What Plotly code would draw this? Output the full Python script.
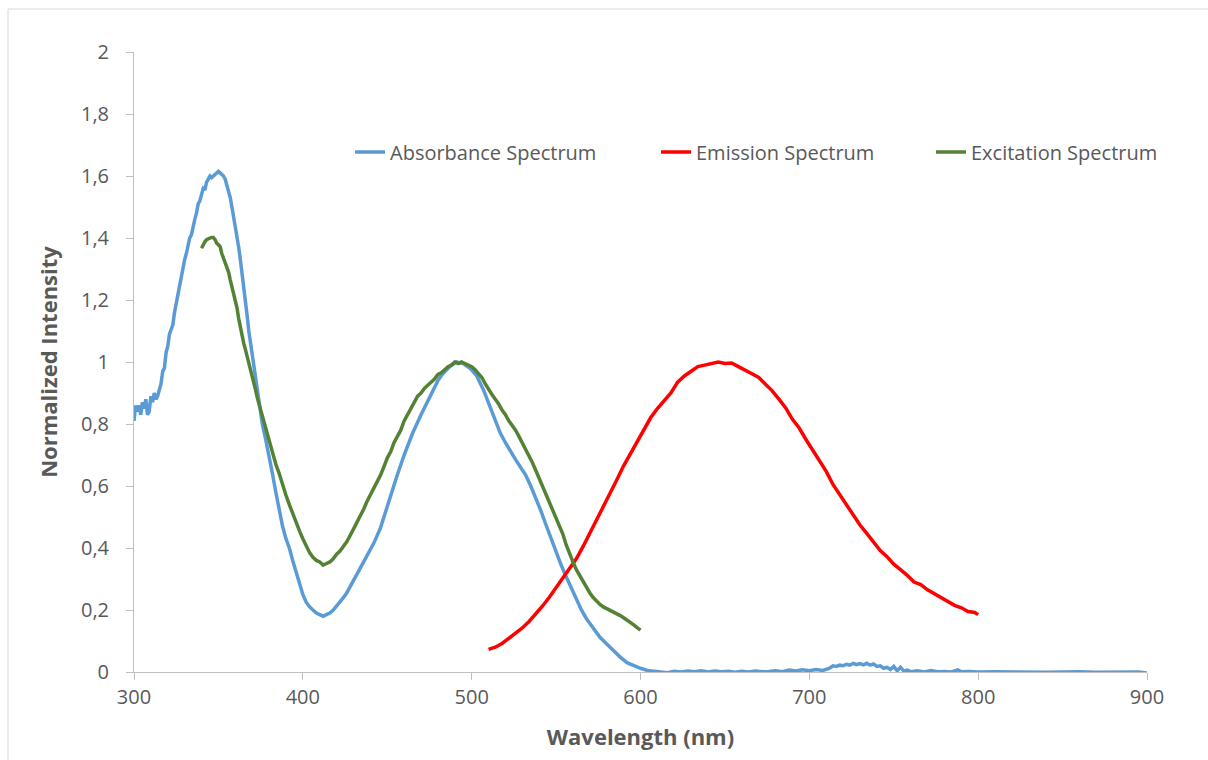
import plotly.graph_objects as go

# ---------------- data ----------------
abs_wl = [300, 301, 302, 303, 304, 305, 306, 307, 308, 309, 310, 311, 312, 313, 314, 315, 316, 317, 318, 319,
          320, 321, 322, 323, 324, 325, 326, 327, 328, 329, 330, 331, 332, 333, 334, 335, 336, 337, 338, 339,
          340, 341, 342, 343, 344, 345, 346, 347, 348, 349, 350, 351, 352, 353, 354, 355, 356, 357, 358, 359,
          360, 361, 362, 363, 364, 365, 366, 367, 368, 369, 370, 371, 372, 373, 374, 375, 376, 378, 380, 382,
          384, 386, 388, 390, 392, 394, 396, 398, 400, 402, 404, 406, 408, 410, 412, 414, 416, 418, 420, 422,
          424, 426, 430, 434, 438, 442, 446, 450, 455.6, 460, 465, 470, 475, 480, 483,
          487, 491, 495, 499, 503, 507, 511, 514, 517, 520, 523, 526, 529, 532, 535, 538, 541, 544, 547, 550,
          553, 556, 559, 562, 565, 568, 572, 576,
          580, 584, 588, 592, 596, 600, 604, 608, 612, 616, 620, 624, 628, 632, 636, 640, 644, 648, 652, 656,
          660, 664, 668, 672, 676, 680, 684, 688, 692, 696, 700, 704, 708, 712, 714, 716, 718, 720, 722, 724,
          726, 728, 730, 732, 734, 736, 738, 740, 742, 744, 746, 748, 750, 752, 754, 756, 758, 760, 764, 768,
          772, 776, 780, 784, 788, 790, 795, 800, 810, 820, 830, 840, 850, 860, 870, 880, 890, 895, 900]
abs_val = [0.81, 0.86, 0.84, 0.86, 0.83, 0.87, 0.85, 0.88, 0.83, 0.84, 0.89, 0.87, 0.90, 0.88, 0.89, 0.91, 0.93, 0.97, 0.98, 1.03,
           1.05, 1.09, 1.11, 1.12, 1.16, 1.19, 1.22, 1.25, 1.27, 1.31, 1.33, 1.35, 1.38, 1.40, 1.41, 1.44, 1.46, 1.48, 1.51, 1.52,
           1.54, 1.56, 1.555, 1.58, 1.59, 1.60, 1.595, 1.60, 1.605, 1.61, 1.615, 1.61, 1.605, 1.60, 1.59, 1.57, 1.56, 1.53, 1.50, 1.47,
           1.43, 1.41, 1.37, 1.33, 1.29, 1.24, 1.19, 1.15, 1.10, 1.06, 1.02, 0.98, 0.94, 0.90, 0.86, 0.83, 0.80, 0.75, 0.70, 0.64,
           0.58, 0.52, 0.47, 0.43, 0.40, 0.36, 0.32, 0.28, 0.25, 0.225, 0.21, 0.20, 0.19, 0.185, 0.18, 0.185, 0.19, 0.20, 0.212, 0.225,
           0.24, 0.255, 0.295, 0.33, 0.37, 0.415, 0.465, 0.535, 0.63, 0.70, 0.77, 0.83, 0.888, 0.94, 0.963,
           0.985, 1.0, 0.995, 0.98, 0.955, 0.91, 0.856, 0.81, 0.77, 0.74, 0.71, 0.685, 0.66, 0.635, 0.60, 0.562, 0.52, 0.475, 0.43, 0.39,
           0.345, 0.307, 0.27, 0.232, 0.20, 0.172, 0.14, 0.112,
           0.09, 0.068, 0.048, 0.03, 0.02, 0.012, 0.005, 0.002, 0.0, -0.002, 0.002, 0.0, 0.003, 0.001, 0.004, 0.0, 0.003, 0.001, 0.002, -0.001,
           0.002, 0.0, 0.003, 0.001, 0.002, 0.004, 0.001, 0.006, 0.003, 0.007, 0.004, 0.008, 0.005, 0.012, 0.02, 0.018, 0.022, 0.02, 0.025, 0.022,
           0.028, 0.024, 0.027, 0.023, 0.028, 0.022, 0.026, 0.018, 0.02, 0.012, 0.015, 0.008, 0.018, 0.004, 0.015, 0.003, 0.006, 0.001, 0.004, 0.0,
           0.005, 0.001, 0.002, 0.0, 0.007, 0.001, 0.002, 0.0, 0.001, 0.0, 0.001, -0.001, 0.0, 0.001, -0.001, 0.0, 0.002, 0.0, -0.003]

em_wl = [510, 514, 518, 522, 526, 530, 534, 538, 542, 546, 550, 554, 558, 562, 566, 570, 574, 578, 582, 586,
         590, 594, 598, 602, 606, 610, 614, 618, 622, 626, 630, 634, 638, 642, 646, 650, 654, 658, 662, 666,
         670, 674, 678, 682, 686, 690, 694, 698, 702, 706, 710, 714, 718, 722, 726, 730, 734, 738, 742, 746,
         750, 754, 758, 762, 766, 770, 774, 778, 782, 786, 790, 794, 798, 800]
em_val = [0.073, 0.08, 0.092, 0.108, 0.123, 0.142, 0.163, 0.187, 0.213, 0.241, 0.272, 0.305, 0.335, 0.365, 0.405, 0.447, 0.49, 0.533, 0.576, 0.62,
          0.665, 0.705, 0.745, 0.785, 0.82, 0.85, 0.875, 0.90, 0.935, 0.955, 0.97, 0.985, 0.99, 0.995, 1.0, 0.995, 0.997, 0.985, 0.975, 0.962,
          0.95, 0.93, 0.907, 0.88, 0.852, 0.815, 0.787, 0.75, 0.717, 0.68, 0.647, 0.605, 0.572, 0.535, 0.503, 0.474, 0.447, 0.42, 0.392, 0.372,
          0.348, 0.33, 0.312, 0.29, 0.282, 0.265, 0.252, 0.24, 0.227, 0.215, 0.207, 0.195, 0.192, 0.185]

ex_wl = [340, 341, 342, 343, 344, 345, 346, 347, 348, 349, 350, 351, 352, 353, 354, 355, 356, 357, 358, 359,
         360, 361, 362, 363, 364, 365, 366, 367, 368, 369, 370, 371, 372, 373, 374, 375, 377, 378, 380, 382,
         384, 386, 388, 390, 392, 394, 396, 398, 400, 402, 404, 406, 408, 410, 412, 414, 416, 418, 420, 422,
         424, 426, 428, 430, 432, 434, 436, 438, 440, 442, 444, 446, 448, 450, 452, 454, 456, 458, 460, 462,
         464, 466, 468, 470, 472, 474, 476, 478, 480, 482, 484, 486, 488, 490, 492, 494, 496, 498, 500, 502,
         504, 506, 508, 510, 512, 514, 516, 518, 520, 522, 524, 526, 528, 530, 532, 534, 536, 538, 540, 542,
         544, 546, 548, 550, 552, 554, 556, 558, 560, 562, 564, 566, 568, 570, 572, 574, 576, 578, 580, 582,
         584, 586, 588, 590, 592, 594, 596, 598, 600]
ex_val = [1.367, 1.38, 1.388, 1.395, 1.399, 1.40, 1.402, 1.402, 1.395, 1.383, 1.378, 1.372, 1.35, 1.334, 1.32, 1.305, 1.29, 1.265, 1.243, 1.22,
          1.195, 1.175, 1.14, 1.11, 1.085, 1.06, 1.04, 1.02, 1.0, 0.98, 0.955, 0.93, 0.91, 0.885, 0.865, 0.84, 0.80, 0.78, 0.74, 0.70,
          0.67, 0.64, 0.60, 0.57, 0.54, 0.51, 0.48, 0.455, 0.43, 0.405, 0.385, 0.37, 0.36, 0.355, 0.345, 0.35, 0.355, 0.365, 0.38, 0.39,
          0.405, 0.42, 0.44, 0.46, 0.48, 0.50, 0.525, 0.55, 0.57, 0.59, 0.61, 0.635, 0.662, 0.69, 0.71, 0.74, 0.76, 0.78, 0.81, 0.83,
          0.85, 0.87, 0.89, 0.90, 0.915, 0.925, 0.935, 0.945, 0.96, 0.965, 0.975, 0.985, 0.99, 1.0, 0.995, 1.0, 0.995, 0.99, 0.985, 0.975,
          0.962, 0.95, 0.93, 0.91, 0.895, 0.88, 0.865, 0.845, 0.83, 0.81, 0.795, 0.78, 0.76, 0.74, 0.72, 0.70, 0.675, 0.65, 0.625, 0.60,
          0.575, 0.55, 0.52, 0.495, 0.47, 0.445, 0.41, 0.38, 0.355, 0.33, 0.31, 0.29, 0.275, 0.255, 0.24, 0.228, 0.218, 0.21, 0.205, 0.198,
          0.192, 0.187, 0.182, 0.175, 0.168, 0.16, 0.152, 0.143, 0.135]

series_names = ["Absorbance Spectrum", "Emission Spectrum", "Excitation Spectrum"]
series_colors = ["#5B9BD5", "#FF0000", "#548235"]

x_title = "Wavelength (nm)"
y_title = "Normalized Intensity"

# ---------------- figure ----------------
FONT = "Open Sans, Lato, sans-serif"
TXT = "#595959"
AX = "#BFBFBF"

fig = go.Figure()
legend_widths = [261, 230, 200]
for wl, val, name, col, lw in zip([abs_wl, em_wl, ex_wl], [abs_val, em_val, ex_val],
                                  series_names, series_colors, legend_widths):
    fig.add_trace(go.Scatter(x=wl, y=val, mode="lines", name=name,
                             line=dict(color=col, width=3.5), legendwidth=lw))

fig.update_layout(
    width=1208, height=760,
    margin=dict(l=134, r=61, t=52, b=88),
    paper_bgcolor="white", plot_bgcolor="white",
    separators=", ",
    font=dict(family=FONT, size=20, color=TXT),
    showlegend=True,
    legend=dict(orientation="h", x=(350 - 134) / 1013, xanchor="left",
                y=(672 - 152) / 620, yanchor="middle",
                font=dict(family=FONT, size=20, color=TXT),
                bgcolor="rgba(0,0,0,0)", borderwidth=0),
    xaxis=dict(range=[300, 900], dtick=100, tick0=300, showgrid=False, zeroline=False,
               showline=True, linecolor=AX, linewidth=1,
               ticks="outside", ticklen=7, tickcolor=AX, tickwidth=1,
               tickfont=dict(family=FONT, size=20, color=TXT),
               title=dict(text=x_title, standoff=20,
                          font=dict(family=FONT, size=22, color=TXT, weight="bold"))),
    yaxis=dict(range=[0, 2], dtick=0.2, tick0=0, showgrid=False, zeroline=False,
               showline=True, linecolor=AX, linewidth=1,
               ticks="outside", ticklen=7, tickcolor=AX, tickwidth=1,
               ticklabelstandoff=13,
               tickfont=dict(family=FONT, size=20, color=TXT),
               title=dict(text=y_title, standoff=17,
                          font=dict(family=FONT, size=22, color=TXT, weight="bold"))),
)

# chart-area border (extends beyond the visible window like the reference)
fig.add_shape(type="rect", xref="paper", yref="paper",
              x0=(8 - 134) / 1013, x1=1.2, y0=-0.3, y1=(672 - 9) / 620,
              line=dict(color="#D9D9D9", width=1), fillcolor="rgba(0,0,0,0)", layer="below")

fig.write_html("out.html")
